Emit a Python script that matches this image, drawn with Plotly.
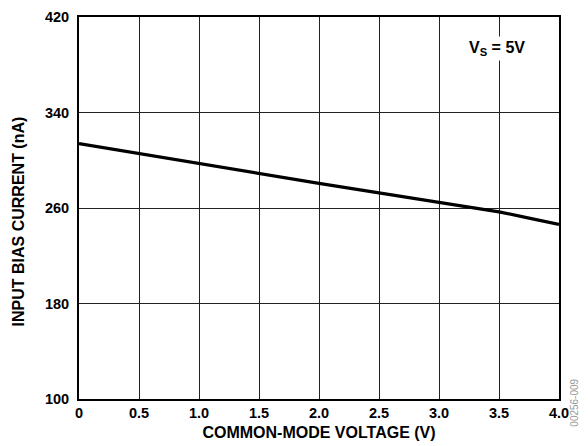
import plotly.graph_objects as go

# Data
vcm = [0.0, 0.5, 1.0, 1.5, 2.0, 2.5, 3.0, 3.5, 3.75, 4.0]
ib = [314.0, 305.7, 297.3, 288.6, 280.6, 272.7, 264.7, 256.8, 251.5, 246.3]
x_ticks = [0, 0.5, 1.0, 1.5, 2.0, 2.5, 3.0, 3.5, 4.0]
x_tick_labels = ["0", "0.5", "1.0", "1.5", "2.0", "2.5", "3.0", "3.5", "4.0"]
y_ticks = [100, 180, 260, 340, 420]

FONT = "Liberation Sans, Arial, sans-serif"

fig = go.Figure()
fig.add_trace(go.Scatter(x=vcm, y=ib, mode="lines",
                         line=dict(color="black", width=3.2),
                         showlegend=False, hoverinfo="skip"))

# page body adds an 8px offset, so the figure is 8px smaller
fig.update_layout(
    width=580, height=438,
    margin=dict(l=71, r=29, t=9, b=47),
    paper_bgcolor="white", plot_bgcolor="white",
    font=dict(family=FONT, size=14, color="black"),
    xaxis=dict(range=[0, 4.0], tickvals=x_ticks, ticktext=x_tick_labels,
               showgrid=True, gridcolor="#222", gridwidth=1,
               showline=True, linecolor="black", linewidth=2, mirror=True,
               ticks="", zeroline=False, automargin=False,
               tickfont=dict(family=FONT, size=14.5, color="black", weight="bold"),
               title=dict(text="<b>COMMON-MODE VOLTAGE (V)</b>",
                          font=dict(family=FONT, size=16), standoff=6)),
    yaxis=dict(range=[100, 420], tickvals=y_ticks,
               showgrid=True, gridcolor="#222", gridwidth=1,
               showline=True, linecolor="black", linewidth=2, mirror=True,
               ticks="", zeroline=False, ticklabelstandoff=5, automargin=False,
               tickfont=dict(family=FONT, size=14.5, color="black", weight="bold")),
    annotations=[
        dict(x=-0.146, y=0.466, xref="paper", yref="paper",
             text="<b>INPUT BIAS CURRENT (nA)</b>", textangle=-90,
             showarrow=False, xanchor="left", yanchor="middle",
             font=dict(family=FONT, size=16, color="black")),
        dict(x=3.48, y=393.5, xref="x", yref="y",
             text="<b>V<sub>S</sub> = 5V</b>", showarrow=False,
             font=dict(family=FONT, size=16, color="black"),
             bgcolor="white", borderpad=2),
        dict(x=1.033, y=0.058, xref="paper", yref="paper",
             text="00256-009", textangle=-90, showarrow=False,
             xanchor="center", yanchor="top",
             font=dict(family=FONT, size=10, color="#999")),
    ],
)

fig.write_html("out.html")
